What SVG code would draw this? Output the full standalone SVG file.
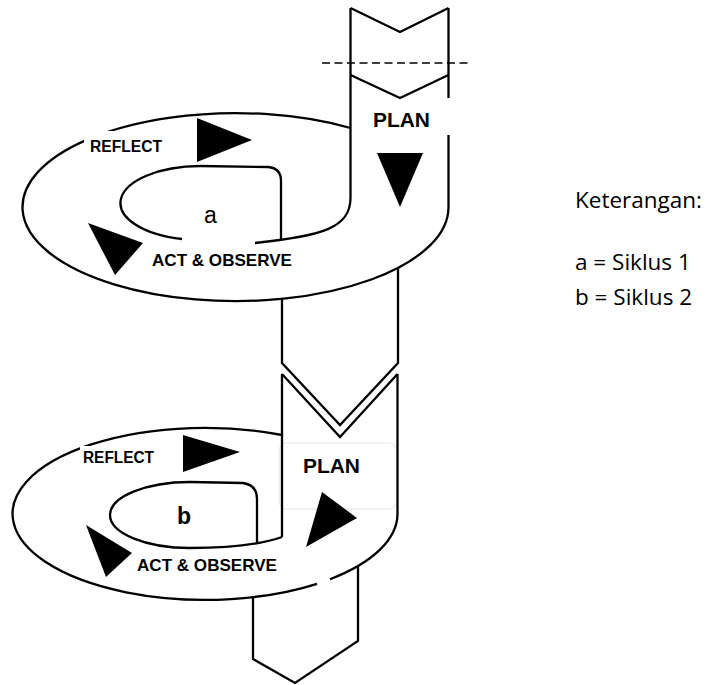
<svg xmlns="http://www.w3.org/2000/svg" width="721" height="685" viewBox="0 0 721 685">
<style>
.ln{fill:none;stroke:#000;stroke-width:2.3;stroke-linejoin:miter}
.tri{fill:#000}
.lbl{font-family:"Liberation Sans",Arial,sans-serif;font-weight:bold;fill:#000}
.txt{font-family:"Liberation Sans",Arial,sans-serif;fill:#000}
.leg{font-family:"Open Sans","Liberation Sans",Arial,sans-serif;fill:#000;font-size:22.5px}
.mask{fill:#fff}
</style>
<rect width="721" height="685" fill="#fff"/>
<g id="connectors">
  <line x1="322" y1="63" x2="470" y2="63" stroke="#000" stroke-width="1.6" stroke-dasharray="8,4.5"/>
</g>
<g id="cycle-a">
  <path class="ln" d="M350.5,8 L400,32 L448.5,8"/>
  <path class="ln" d="M350.5,75 L400,98 L448.5,75"/>
  <path class="ln" d="M448.5,8 V98 M448.5,135 V207"/>
  <path class="ln" d="M350.5,128 A213,94 0 1 0 448.5,207"/>
  <path class="ln" d="M350.5,8 V198 C350.5,228 322,236 255,243"/>
  <path class="ln" d="M182,239 A80,37 0 0 1 200,166 L268,167 Q281,168 281,181 V241"/>
  <path class="ln" d="M282,299 V363 L340,425 L398,363 V268"/>
  <rect class="mask" x="84" y="131" width="82" height="25"/>
  <text class="lbl" x="90" y="152" font-size="16" textLength="72" lengthAdjust="spacingAndGlyphs">REFLECT</text>
  <text class="lbl" x="373" y="127" font-size="21" textLength="57" lengthAdjust="spacingAndGlyphs">PLAN</text>
  <text class="txt" x="204" y="223" font-size="23">a</text>
  <text class="lbl" x="152" y="266" font-size="17" textLength="140" lengthAdjust="spacingAndGlyphs">ACT &amp; OBSERVE</text>
  <polygon class="tri" points="197,118 252,140 197,162"/>
  <polygon class="tri" points="88,223 143,243 115,275"/>
  <polygon class="tri" points="377,153 423,153 400,207"/>
</g>
<g id="cycle-b">
  <rect x="279" y="443" width="118" height="66" rx="8" fill="none" stroke="#ececec" stroke-width="1.5"/>
  <path class="ln" d="M282,374 L340,437 L397.5,374"/>
  <path class="ln" d="M397.5,374 V514"/>
  <path class="ln" d="M282,374 V537"/>
  <path class="ln" d="M282,435 A192.5,86 0 1 0 317,583.8 M330,579.2 A192.5,86 0 0 0 397.5,514"/>
  <path class="ln" d="M282,537 C265,543 235,548 190,548 A80,33 0 0 1 190,482 L243,483 Q257,485 257,499 V543"/>
  <path class="ln" d="M253,597 V659 L295,683 L358,641 V566"/>
  <rect class="mask" x="80" y="446" width="78" height="21"/>
  <text class="lbl" x="83" y="463" font-size="16" textLength="71" lengthAdjust="spacingAndGlyphs">REFLECT</text>
  <text class="lbl" x="303" y="473" font-size="21" textLength="57" lengthAdjust="spacingAndGlyphs">PLAN</text>
  <text class="lbl" x="177" y="524" font-size="23">b</text>
  <text class="lbl" x="137" y="571" font-size="17" textLength="140" lengthAdjust="spacingAndGlyphs">ACT &amp; OBSERVE</text>
  <polygon class="tri" points="183,435 240,452 183,472"/>
  <polygon class="tri" points="86,525 132,553 106,577"/>
  <polygon class="tri" points="322,492 357,518 306,547"/>
</g>
<g id="legend">
  <text class="leg" x="575" y="208">Keterangan:</text>
  <text class="leg" x="575" y="270">a = Siklus 1</text>
  <text class="leg" x="575" y="305">b = Siklus 2</text>
</g>
</svg>
